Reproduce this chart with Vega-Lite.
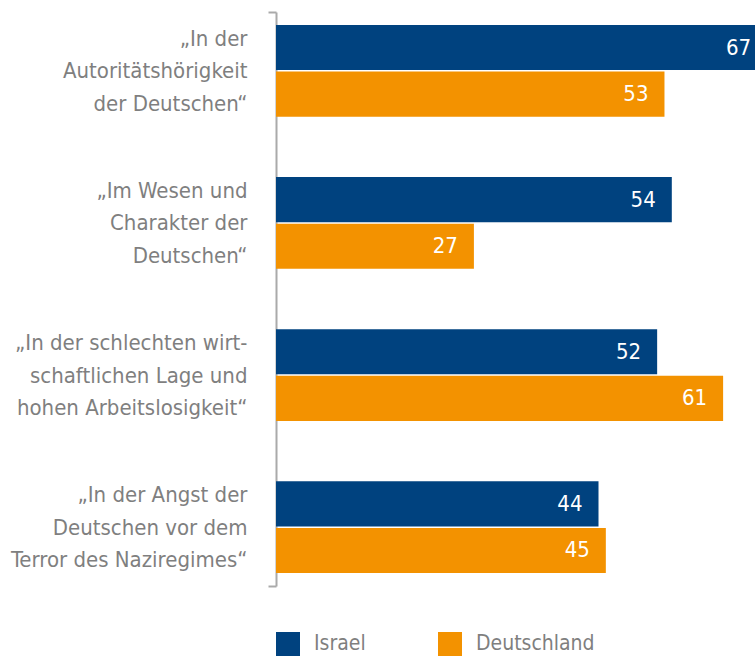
{
  "$schema": "https://vega.github.io/schema/vega-lite/v6.json",
  "width": 479,
  "height": 574,
  "autosize": {"type": "none"},
  "padding": {"left": 276, "top": 12, "right": 0, "bottom": 71},
  "config": {"view": {"stroke": null}, "font": "'Liberation Sans Narrow', 'DejaVu Sans Condensed', sans-serif"},
  "data": {
    "values": [
      {"frage": "„In der|Autoritätshörigkeit|der Deutschen“", "land": "Israel", "wert": 67},
      {"frage": "„In der|Autoritätshörigkeit|der Deutschen“", "land": "Deutschland", "wert": 53},
      {"frage": "„Im Wesen und|Charakter der|Deutschen“", "land": "Israel", "wert": 54},
      {"frage": "„Im Wesen und|Charakter der|Deutschen“", "land": "Deutschland", "wert": 27},
      {"frage": "„In der schlechten wirt-|schaftlichen Lage und|hohen Arbeitslosigkeit“", "land": "Israel", "wert": 52},
      {"frage": "„In der schlechten wirt-|schaftlichen Lage und|hohen Arbeitslosigkeit“", "land": "Deutschland", "wert": 61},
      {"frage": "„In der Angst der|Deutschen vor dem|Terror des Naziregimes“", "land": "Israel", "wert": 44},
      {"frage": "„In der Angst der|Deutschen vor dem|Terror des Naziregimes“", "land": "Deutschland", "wert": 45}
    ]
  },
  "layer": [
    {
      "layer": [
        {
          "mark": {"type": "bar", "clip": true},
          "encoding": {
            "y": {
              "field": "frage", "type": "nominal", "sort": null,
              "scale": {"paddingInner": 0.397, "paddingOuter": 0.085},
              "axis": {
                "orient": "left", "title": null, "domain": false, "ticks": false,
                "labelExpr": "split(datum.label, '|')",
                "labelAlign": "right", "labelBaseline": "middle",
                "labelLineHeight": 32.5, "labelFontSize": 22, "labelOffset": -32,
                "labelColor": "#7f7f7f", "labelPadding": 29, "labelLimit": 300
              }
            },
            "yOffset": {"field": "land", "type": "nominal", "sort": ["Israel", "Deutschland"], "scale": {"paddingInner": 0.03}},
            "x": {"field": "wert", "type": "quantitative", "scale": {"domain": [0, 65.35], "nice": false}, "axis": null},
            "color": {
              "field": "land", "type": "nominal",
              "scale": {"domain": ["Israel", "Deutschland"], "range": ["#00427f", "#f39200"]},
              "legend": {
                "orient": "none", "legendX": 0, "legendY": 620, "direction": "horizontal",
                "title": null, "symbolType": "square", "symbolSize": 576, "symbolStrokeWidth": 0,
                "symbolOpacity": 1, "labelFontSize": 21, "labelColor": "#7f7f7f",
                "labelOffset": 14, "columnPadding": 72, "padding": 0
              }
            }
          }
        },
        {
          "mark": {"type": "text", "align": "right", "dx": -16, "baseline": "middle", "color": "white", "fontSize": 22},
          "encoding": {
            "y": {"field": "frage", "type": "nominal", "sort": null},
            "yOffset": {"field": "land", "type": "nominal", "sort": ["Israel", "Deutschland"]},
            "x": {"field": "wert", "type": "quantitative"},
            "text": {"field": "wert", "type": "quantitative"}
          }
        }
      ]
    },
    {
      "data": {"values": [{"p": 0}]},
      "mark": {"type": "rule", "opacity": 0},
      "encoding": {
        "y": {
          "field": "p", "type": "quantitative",
          "scale": {"domain": [0, 1], "nice": false, "zero": false},
          "axis": {
            "orient": "left", "values": [0, 1], "labels": false, "ticks": true, "tickSize": 8,
            "tickColor": "#aaaaaa", "tickWidth": 2, "domainColor": "#aaaaaa",
            "domainWidth": 2, "grid": false, "title": null
          }
        }
      }
    }
  ],
  "resolve": {"scale": {"y": "independent"}, "axis": {"y": "independent"}}
}
